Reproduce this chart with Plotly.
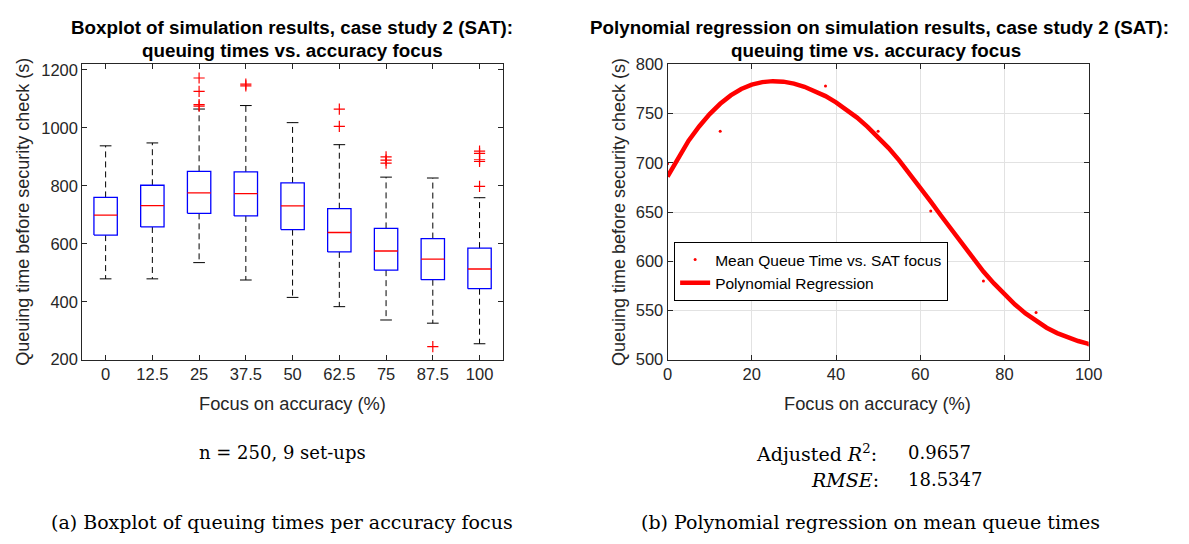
import plotly.graph_objects as go

# ---------------- data ----------------
focus_labels = ["0", "12.5", "25", "37.5", "50", "62.5", "75", "87.5", "100"]
box_q1 = [630, 658, 705, 696, 649, 572, 509, 476, 445]
box_median = [699, 732, 776, 773, 731, 639, 575, 547, 513]
box_q3 = [760, 802, 850, 848, 810, 721, 653, 618, 585]
whisker_low = [479, 479, 535, 475, 415, 383, 337, 326, 255]
whisker_high = [938, 948, 1065, 1077, 1018, 942, 830, 827, 759]
box_outliers = [[], [], [1172, 1126, 1080, 1075], [1151, 1145], [],
                [1065, 1005], [900, 889, 878], [245], [920, 912, 890, 884, 798]]

mean_focus = [0, 12.5, 25, 37.5, 50, 62.5, 75, 87.5, 100]
mean_queue = [699, 732, 783, 778, 732, 651, 580, 548, 515]

reg_focus = [0, 2.5, 5, 7.5, 10, 12.5, 15, 17.5, 20, 22.5, 25, 27.5, 30, 32.5, 35, 37.5, 40,
             42.5, 45, 47.5, 50, 52.5, 55, 57.5, 60, 62.5, 65, 67.5, 70, 72.5, 75, 77.5, 80,
             82.5, 85, 87.5, 90, 92.5, 95, 97.5, 100]
reg_queue = [686, 705, 722.5, 737, 749.5, 760, 768.5, 775, 779.5, 782, 783, 782.5, 780.5, 777.3,
             773, 767.8, 761.5, 754, 746, 736.5, 726.5, 715, 702.5, 689, 675, 660.5, 646, 631.5,
             617, 603, 589.5, 577.5, 566, 556, 547, 539.5, 532.5, 527, 522.5, 519, 516]

# ---------------- styling ----------------
W, H = 1189, 544
AX = "#262626"
SANS = "Liberation Sans, Arial, sans-serif"
SERIF = "DejaVu Serif, serif"
BOX_W = 0.5
CAP_W = 0.25


def px(xp):
    return xp / W


def py(yp):
    return 1 - yp / H


fig = go.Figure()

pos = list(range(1, len(focus_labels) + 1))

# whiskers (dashed)
wx, wy = [], []
for p, lo, q1, q3, hi in zip(pos, whisker_low, box_q1, box_q3, whisker_high):
    wx += [p, p, None, p, p, None]
    wy += [q3, hi, None, q1, lo, None]
fig.add_trace(go.Scatter(x=wx, y=wy, mode="lines", line=dict(color="black", width=1, dash="6px,4px"),
                         hoverinfo="skip", showlegend=False, xaxis="x", yaxis="y"))
# caps
cx, cy = [], []
for p, lo, hi in zip(pos, whisker_low, whisker_high):
    cx += [p - CAP_W / 2, p + CAP_W / 2, None, p - CAP_W / 2, p + CAP_W / 2, None]
    cy += [hi, hi, None, lo, lo, None]
fig.add_trace(go.Scatter(x=cx, y=cy, mode="lines", line=dict(color="black", width=1),
                         hoverinfo="skip", showlegend=False, xaxis="x", yaxis="y"))
# boxes
bx, by = [], []
for p, q1, q3 in zip(pos, box_q1, box_q3):
    l, r = p - BOX_W / 2, p + BOX_W / 2
    bx += [l, r, r, l, l, None]
    by += [q1, q1, q3, q3, q1, None]
fig.add_trace(go.Scatter(x=bx, y=by, mode="lines", line=dict(color="#0000ff", width=1.3),
                         hoverinfo="skip", showlegend=False, xaxis="x", yaxis="y"))
# medians
mx, my = [], []
for p, m in zip(pos, box_median):
    mx += [p - BOX_W / 2, p + BOX_W / 2, None]
    my += [m, m, None]
fig.add_trace(go.Scatter(x=mx, y=my, mode="lines", line=dict(color="#ff0000", width=1.3),
                         hoverinfo="skip", showlegend=False, xaxis="x", yaxis="y"))
# outliers
ox, oy = [], []
for p, outs in zip(pos, box_outliers):
    for v in outs:
        ox.append(p)
        oy.append(v)
fig.add_trace(go.Scatter(x=ox, y=oy, mode="markers",
                         marker=dict(symbol="cross-thin", size=8, line=dict(color="#ff0000", width=1.2)),
                         showlegend=False, xaxis="x", yaxis="y"))

# right: regression
fig.add_trace(go.Scatter(x=mean_focus, y=mean_queue, mode="markers", name="Mean Queue Time vs. SAT focus",
                         marker=dict(color="#ff0000", size=3), xaxis="x2", yaxis="y2"))
fig.add_trace(go.Scatter(x=reg_focus, y=reg_queue, mode="lines", name="Polynomial Regression",
                         line=dict(color="#ff0000", width=4.5, shape="linear"),
                         xaxis="x2", yaxis="y2"))

axis_common = dict(showline=True, linecolor=AX, linewidth=1, mirror="ticks", ticks="inside",
                   ticklen=5, tickcolor=AX, zeroline=False,
                   tickfont=dict(family=SANS, size=16.5, color=AX))

fig.update_layout(
    width=W, height=H, margin=dict(l=0, r=0, t=0, b=0),
    paper_bgcolor="white", plot_bgcolor="white",
    font=dict(family=SANS, color=AX),
    xaxis=dict(domain=[px(78.5), px(506)], range=[0.5, 9.5], tickvals=pos, ticktext=focus_labels,
               showgrid=False, anchor="y", **axis_common),
    yaxis=dict(domain=[py(362.7), py(57)], range=[200, 1220], tick0=200, dtick=200,
               showgrid=False, anchor="x", **axis_common),
    xaxis2=dict(domain=[px(673.3), px(1101.3)], range=[0, 100], tick0=0, dtick=20,
                showgrid=True, gridcolor="#e2e2e2", anchor="y2", **axis_common),
    yaxis2=dict(domain=[py(362.7), py(57.3)], range=[500, 800], tick0=500, dtick=50,
                showgrid=True, gridcolor="#e2e2e2", anchor="x2", **axis_common),
    legend=dict(x=px(680), y=py(271.5), xanchor="left", yanchor="middle",
                bgcolor="white", bordercolor="black", borderwidth=1,
                font=dict(family=SANS, size=15.5, color="black"), tracegroupgap=0),
    showlegend=True,
)

ann = []


def add(text, x, y, size, family=SANS, color="black", xanchor="center", angle=0, bold=False):
    ann.append(dict(text=("<b>%s</b>" % text) if bold else text, x=px(x), y=py(y), xref="paper", yref="paper",
                    showarrow=False, xanchor=xanchor, yanchor="middle", textangle=angle,
                    font=dict(family=family, size=size, color=color)))


add("Boxplot of simulation results, case study 2 (SAT):", 292, 19, 18.8, bold=True)
add("queuing times vs. accuracy focus", 292, 43, 18.8, bold=True)
add("Polynomial regression on simulation results, case study 2 (SAT):", 889, 19, 18.8, bold=True)
add("queuing time vs. accuracy focus", 885, 43, 18.8, bold=True)

add("Focus on accuracy (%)", 292, 408, 18.3, color=AX)
add("Focus on accuracy (%)", 887, 408, 18.3, color=AX)
add("Queuing time before security check (s)", 18, 210, 18, color=AX, angle=-90)
add("Queuing time before security check (s)", 624, 210, 18, color=AX, angle=-90)

add("n = 250, 9 set-ups", 282, 459, 18, family=SERIF)
add("Adjusted <i>R</i><sup>2</sup>:", 761, 459, 19, family=SERIF, xanchor="left")
add("0.9657", 916, 459, 18, family=SERIF, xanchor="left")
add("<i>RMSE</i>:", 817, 487, 19, family=SERIF, xanchor="left")
add("18.5347", 916, 487, 18, family=SERIF, xanchor="left")
add("(a) Boxplot of queuing times per accuracy focus", 282, 531, 19, family=SERIF)
add("(b) Polynomial regression on mean queue times", 880, 531, 19, family=SERIF)

fig.update_layout(annotations=ann)

fig.write_html("out.html")
